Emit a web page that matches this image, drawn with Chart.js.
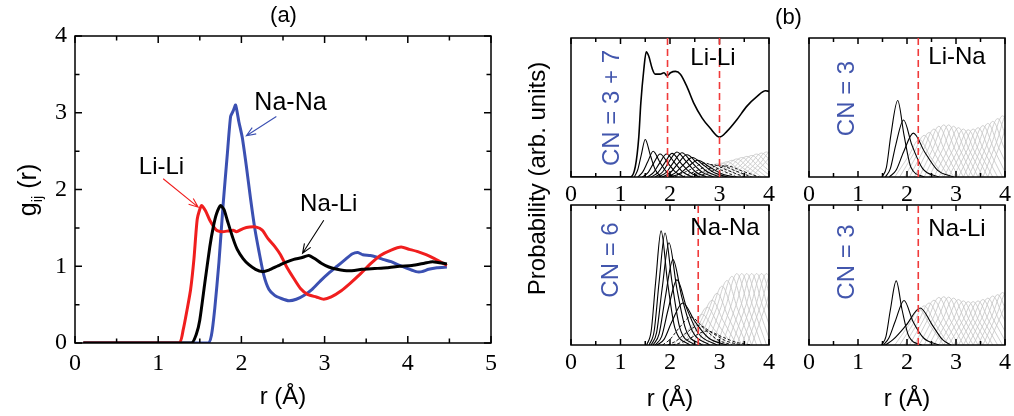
<!DOCTYPE html>
<html><head><meta charset="utf-8">
<script src="https://cdn.jsdelivr.net/npm/chart.js@4.4.0/dist/chart.umd.min.js"></script>
<style>
html,body{margin:0;padding:0;background:#fff;}
#wrap{position:relative;width:1014px;height:416px;overflow:hidden;background:#fff;}
#wrap canvas{position:absolute;left:0;top:0;}
</style></head>
<body><div id="wrap">
<canvas id="cA" width="1014" height="416"></canvas>
<canvas id="cB1" width="1014" height="416"></canvas>
<canvas id="cB2" width="1014" height="416"></canvas>
<canvas id="cB3" width="1014" height="416"></canvas>
<canvas id="cB4" width="1014" height="416"></canvas>
</div>
<script>
// ---------- Panel (a): radial distribution functions g_ij(r) ----------
const aXTicks = [0, 1, 2, 3, 4, 5];
const aYTicks = [0, 1, 2, 3, 4];
const aLiLi = [[0.1,0],[1.25,0],[1.30,0.17],[1.35,0.45],[1.39,0.70],[1.43,1.10],[1.47,1.62],[1.52,1.79],[1.57,1.72],[1.62,1.60],[1.70,1.47],[1.77,1.45],[1.84,1.46],[1.90,1.47],[1.94,1.45],[2.02,1.49],[2.10,1.51],[2.18,1.51],[2.25,1.47],[2.32,1.36],[2.40,1.26],[2.47,1.15],[2.55,0.98],[2.63,0.84],[2.71,0.71],[2.80,0.63],[2.90,0.60],[2.99,0.57],[3.08,0.60],[3.20,0.68],[3.31,0.78],[3.43,0.90],[3.55,1.03],[3.67,1.14],[3.80,1.21],[3.92,1.25],[4.02,1.22],[4.12,1.19],[4.22,1.15],[4.32,1.10],[4.47,1.01]];
const aNaNa = [[0.1,0],[1.60,0],[1.64,0.10],[1.68,0.45],[1.73,1.05],[1.78,1.80],[1.83,2.45],[1.87,2.95],[1.90,3.02],[1.93,3.10],[1.97,2.88],[2.01,2.68],[2.06,2.30],[2.11,1.88],[2.16,1.50],[2.21,1.20],[2.27,0.88],[2.33,0.70],[2.40,0.62],[2.48,0.58],[2.57,0.55],[2.66,0.57],[2.75,0.62],[2.85,0.70],[2.95,0.81],[3.05,0.91],[3.15,1.00],[3.25,1.09],[3.33,1.16],[3.40,1.18],[3.46,1.15],[3.55,1.14],[3.62,1.12],[3.70,1.09],[3.80,1.06],[3.90,1.01],[4.00,0.97],[4.10,0.93],[4.17,0.93],[4.25,0.96],[4.35,0.98],[4.47,0.99]];
const aNaLi = [[0.1,0],[1.40,0],[1.46,0.12],[1.50,0.30],[1.56,0.78],[1.62,1.25],[1.66,1.50],[1.70,1.68],[1.75,1.79],[1.79,1.74],[1.83,1.60],[1.90,1.36],[1.95,1.22],[2.02,1.10],[2.09,1.02],[2.17,0.96],[2.25,0.93],[2.33,0.95],[2.43,1.00],[2.53,1.05],[2.63,1.09],[2.72,1.11],[2.81,1.14],[2.88,1.10],[2.96,1.04],[3.05,0.99],[3.15,0.96],[3.29,0.94],[3.45,0.96],[3.60,0.97],[3.75,0.98],[3.90,1.00],[4.05,1.01],[4.20,1.04],[4.30,1.06],[4.47,1.03]];

// ---------- Panel (b): neighbour distance distributions ----------
const bXTicks = [0, 1, 2, 3, 4];
// Li-Li
const bLiLiTotal = [[0,0],[1.20,0],[1.30,0.076],[1.37,0.29],[1.41,0.53],[1.47,0.77],[1.52,0.90],[1.57,0.87],[1.64,0.78],[1.70,0.74],[1.80,0.74],[1.88,0.75],[1.94,0.728],[2.01,0.75],[2.11,0.76],[2.21,0.74],[2.34,0.652],[2.48,0.532],[2.65,0.424],[2.81,0.352],[3.00,0.287],[3.15,0.328],[3.35,0.412],[3.55,0.508],[3.76,0.58],[3.93,0.62],[4.0,0.616]];
const bLiLiSolid = [
 [[1.28,0],[1.35,.054],[1.42,.16],[1.50,.27],[1.60,.16],[1.70,.054],[1.82,0]],
 [[1.35,0],[1.45,.037],[1.55,.11],[1.66,.185],[1.79,.11],[1.93,.037],[2.08,0]],
 [[1.44,0],[1.56,.033],[1.67,.10],[1.80,.165],[1.96,.10],[2.12,.033],[2.30,0]],
 [[1.54,0],[1.67,.033],[1.79,.10],[1.93,.165],[2.10,.10],[2.27,.033],[2.46,0]],
 [[1.62,0],[1.76,.034],[1.89,.10],[2.04,.17],[2.22,.10],[2.40,.034],[2.60,0]],
 [[1.70,0],[1.85,.036],[1.98,.11],[2.14,.18],[2.33,.11],[2.52,.036],[2.74,0]],
 [[1.77,0],[1.93,.035],[2.07,.105],[2.24,.175],[2.44,.105],[2.65,.035],[2.88,0]],
 [[1.84,0],[2.01,.032],[2.16,.096],[2.34,.16],[2.56,.096],[2.78,.032],[3.02,0]],
 [[1.92,0],[2.10,.028],[2.26,.084],[2.45,.14],[2.68,.084],[2.91,.028],[3.16,0]],
 [[2.00,0],[2.19,.024],[2.36,.072],[2.56,.12],[2.80,.072],[3.04,.024],[3.30,0]]
];
const bLiLiDashed = [
 [[2.10,0],[2.42,.055],[2.70,.10],[3.00,.055],[3.35,0]],
 [[2.25,0],[2.57,.05],[2.85,.09],[3.15,.05],[3.50,0]],
 [[2.40,0],[2.72,.047],[3.00,.085],[3.30,.047],[3.65,0]],
 [[2.55,0],[2.87,.044],[3.15,.08],[3.45,.044],[3.80,0]]
];
const bLiLiGrey = [
 [[2.45,0],[2.73,.052],[2.95,.095],[3.17,.052],[3.45,0]],
 [[2.55,0],[2.83,.055],[3.05,.10],[3.27,.055],[3.55,0]],
 [[2.65,0],[2.93,.06],[3.15,.11],[3.37,.06],[3.65,0]],
 [[2.75,0],[3.03,.066],[3.25,.12],[3.47,.066],[3.75,0]],
 [[2.85,0],[3.13,.072],[3.35,.13],[3.57,.072],[3.85,0]],
 [[2.95,0],[3.23,.077],[3.45,.14],[3.67,.077],[3.95,0]],
 [[3.05,0],[3.33,.081],[3.55,.148],[3.77,.081],[4.05,0]],
 [[3.15,0],[3.43,.085],[3.65,.155],[3.87,.085],[4.15,0]],
 [[3.25,0],[3.53,.091],[3.75,.165],[3.97,.091],[4.25,0]],
 [[3.35,0],[3.63,.095],[3.85,.172],[4.07,.095],[4.35,0]],
 [[3.45,0],[3.73,.099],[3.95,.18],[4.17,.099],[4.45,0]],
 [[3.55,0],[3.83,.103],[4.05,.188],[4.27,.103],[4.55,0]],
 [[3.65,0],[3.93,.107],[4.15,.195],[4.37,.107],[4.65,0]]
];
const bLiLiCut = [1.95, 3.0];
// Li-Na
const bLiNaSolid = [
 [[1.49,0],[1.58,.07],[1.67,.30],[1.81,.55],[1.94,.30],[2.08,.07],[2.35,0]],
 [[1.56,0],[1.66,.06],[1.77,.23],[1.93,.41],[2.10,.23],[2.32,.06],[2.65,0]],
 [[1.64,0],[1.78,.05],[1.93,.18],[2.13,.316],[2.36,.18],[2.62,.05],[2.95,0]]
];
const bLiNaGrey = [
 [[1.75,0],[2.03,.149],[2.25,.27],[2.47,.149],[2.75,0]],
 [[1.85,0],[2.13,.165],[2.35,.30],[2.57,.165],[2.85,0]],
 [[1.95,0],[2.23,.176],[2.45,.32],[2.67,.176],[2.95,0]],
 [[2.05,0],[2.33,.19],[2.55,.345],[2.77,.19],[3.05,0]],
 [[2.15,0],[2.43,.20],[2.65,.365],[2.87,.20],[3.15,0]],
 [[2.25,0],[2.53,.206],[2.75,.375],[2.97,.206],[3.25,0]],
 [[2.35,0],[2.63,.206],[2.85,.375],[3.07,.206],[3.35,0]],
 [[2.45,0],[2.73,.20],[2.95,.365],[3.17,.20],[3.45,0]],
 [[2.55,0],[2.83,.195],[3.05,.355],[3.27,.195],[3.55,0]],
 [[2.65,0],[2.93,.19],[3.15,.345],[3.37,.19],[3.65,0]],
 [[2.75,0],[3.03,.187],[3.25,.34],[3.47,.187],[3.75,0]],
 [[2.85,0],[3.13,.19],[3.35,.345],[3.57,.19],[3.85,0]],
 [[2.95,0],[3.23,.195],[3.45,.355],[3.67,.195],[3.95,0]],
 [[3.05,0],[3.33,.204],[3.55,.37],[3.77,.204],[4.05,0]],
 [[3.15,0],[3.43,.212],[3.65,.385],[3.87,.212],[4.15,0]],
 [[3.25,0],[3.53,.22],[3.75,.40],[3.97,.22],[4.25,0]],
 [[3.35,0],[3.63,.231],[3.85,.42],[4.07,.231],[4.35,0]],
 [[3.45,0],[3.73,.242],[3.95,.44],[4.17,.242],[4.45,0]],
 [[3.55,0],[3.83,.253],[4.05,.46],[4.27,.253],[4.55,0]],
 [[3.65,0],[3.93,.264],[4.15,.48],[4.37,.264],[4.65,0]]
];
const bLiNaCut = [2.23];
// Na-Na
const bNaNaSolid = [
 [[1.53,0],[1.62,.10],[1.71,.45],[1.82,.815],[1.95,.45],[2.10,.12],[2.40,0]],
 [[1.58,0],[1.68,.10],[1.78,.45],[1.90,.80],[2.04,.45],[2.20,.12],[2.50,0]],
 [[1.62,0],[1.73,.09],[1.84,.40],[1.98,.73],[2.14,.40],[2.32,.11],[2.65,0]],
 [[1.66,0],[1.78,.08],[1.90,.33],[2.06,.61],[2.24,.34],[2.45,.10],[2.80,0]],
 [[1.70,0],[1.83,.06],[1.96,.25],[2.14,.465],[2.34,.26],[2.58,.08],[2.95,0]],
 [[1.74,0],[1.88,.04],[2.03,.16],[2.26,.30],[2.50,.17],[2.78,.05],[3.15,0]]
];
const bNaNaDashed = [
 [[1.85,0],[2.00,.04],[2.18,.12],[2.42,.20],[2.68,.12],[2.95,.04],[3.25,0]],
 [[1.95,0],[2.12,.028],[2.32,.084],[2.58,.14],[2.86,.084],[3.14,.028],[3.45,0]],
 [[2.05,0],[2.25,.02],[2.47,.06],[2.75,.10],[3.04,.06],[3.33,.02],[3.65,0]]
];
const bNaNaGrey = [
 [[2.05,0],[2.33,.094],[2.55,.17],[2.77,.094],[3.05,0]],
 [[2.15,0],[2.43,.121],[2.65,.22],[2.87,.121],[3.15,0]],
 [[2.25,0],[2.53,.149],[2.75,.27],[2.97,.149],[3.25,0]],
 [[2.35,0],[2.63,.176],[2.85,.32],[3.07,.176],[3.35,0]],
 [[2.45,0],[2.73,.204],[2.95,.37],[3.17,.204],[3.45,0]],
 [[2.55,0],[2.83,.231],[3.05,.42],[3.27,.231],[3.55,0]],
 [[2.65,0],[2.93,.253],[3.15,.46],[3.37,.253],[3.65,0]],
 [[2.75,0],[3.03,.27],[3.25,.49],[3.47,.27],[3.75,0]],
 [[2.85,0],[3.13,.28],[3.35,.51],[3.57,.28],[3.85,0]],
 [[2.95,0],[3.23,.28],[3.45,.51],[3.67,.28],[3.95,0]],
 [[3.05,0],[3.33,.28],[3.55,.51],[3.77,.28],[4.05,0]],
 [[3.15,0],[3.43,.28],[3.65,.51],[3.87,.28],[4.15,0]],
 [[3.25,0],[3.53,.28],[3.75,.51],[3.97,.28],[4.25,0]],
 [[3.35,0],[3.63,.28],[3.85,.51],[4.07,.28],[4.35,0]],
 [[3.45,0],[3.73,.28],[3.95,.51],[4.17,.28],[4.45,0]],
 [[3.55,0],[3.83,.28],[4.05,.51],[4.27,.28],[4.55,0]],
 [[3.65,0],[3.93,.28],[4.15,.51],[4.37,.28],[4.65,0]]
];
const bNaNaCut = [2.57];
// Na-Li
const bNaLiSolid = [
 [[1.48,0],[1.57,.06],[1.66,.25],[1.78,.458],[1.90,.25],[2.04,.06],[2.30,0]],
 [[1.52,0],[1.63,.05],[1.76,.17],[1.94,.318],[2.12,.17],[2.34,.05],[2.65,0]],
 [[1.56,0],[1.72,.04],[1.98,.14],[2.27,.264],[2.52,.14],[2.72,.04],[2.90,0]]
];
const bNaLiGrey = [
 [[1.75,0],[2.03,.14],[2.25,.255],[2.47,.14],[2.75,0]],
 [[1.85,0],[2.13,.154],[2.35,.28],[2.57,.154],[2.85,0]],
 [[1.95,0],[2.23,.165],[2.45,.30],[2.67,.165],[2.95,0]],
 [[2.05,0],[2.33,.176],[2.55,.32],[2.77,.176],[3.05,0]],
 [[2.15,0],[2.43,.187],[2.65,.34],[2.87,.187],[3.15,0]],
 [[2.25,0],[2.53,.19],[2.75,.345],[2.97,.19],[3.25,0]],
 [[2.35,0],[2.63,.188],[2.85,.342],[3.07,.188],[3.35,0]],
 [[2.45,0],[2.73,.184],[2.95,.335],[3.17,.184],[3.45,0]],
 [[2.55,0],[2.83,.179],[3.05,.325],[3.27,.179],[3.55,0]],
 [[2.65,0],[2.93,.173],[3.15,.315],[3.37,.173],[3.65,0]],
 [[2.75,0],[3.03,.17],[3.25,.31],[3.47,.17],[3.75,0]],
 [[2.85,0],[3.13,.17],[3.35,.31],[3.57,.17],[3.85,0]],
 [[2.95,0],[3.23,.173],[3.45,.315],[3.67,.173],[3.95,0]],
 [[3.05,0],[3.33,.179],[3.55,.325],[3.77,.179],[4.05,0]],
 [[3.15,0],[3.43,.184],[3.65,.335],[3.87,.184],[4.15,0]],
 [[3.25,0],[3.53,.193],[3.75,.35],[3.97,.193],[4.25,0]],
 [[3.35,0],[3.63,.198],[3.85,.36],[4.07,.198],[4.35,0]],
 [[3.45,0],[3.73,.206],[3.95,.375],[4.17,.206],[4.45,0]],
 [[3.55,0],[3.83,.215],[4.05,.39],[4.27,.215],[4.55,0]],
 [[3.65,0],[3.93,.22],[4.15,.40],[4.37,.22],[4.65,0]]
];
const bNaLiCut = [2.23];

// ---------- helpers ----------
const SANS = '"Liberation Sans", Arial, Helvetica, sans-serif';
const SERIF = '"Liberation Serif", "Times New Roman", Times, serif';
const RED = '#f01e1e', BLUE = '#3b50b2', CNBLUE = '#4256ad';
const W = 1014, H = 416;
const pts = arr => arr.map(p => ({x: p[0], y: p[1]}));
function lineDS(arr, color, width, dash, mono) {
  return {data: pts(arr), borderColor: color, borderWidth: width, borderDash: dash || [],
    pointRadius: 0, pointHoverRadius: 0, fill: false, tension: mono ? 0 : 0.2,
    cubicInterpolationMode: mono ? 'monotone' : 'default'};
}
function framePlugin(o) {
  return {id: 'frame', afterDatasetsDraw(chart) {
    const {ctx, chartArea: a, scales: {x, y}} = chart;
    ctx.save();
    ctx.strokeStyle = '#000'; ctx.lineWidth = o.lw;
    ctx.beginPath();
    const xv = x.ticks.map(t => t.value);
    const seg = (x1, y1, x2, y2) => { ctx.moveTo(x1, y1); ctx.lineTo(x2, y2); };
    xv.forEach((v, i) => {
      const p = x.getPixelForValue(v);
      seg(p, a.bottom, p, a.bottom - o.major); seg(p, a.top, p, a.top + o.major);
      if (i < xv.length - 1) {
        const q = x.getPixelForValue((v + xv[i + 1]) / 2);
        seg(q, a.bottom, q, a.bottom - o.minor); seg(q, a.top, q, a.top + o.minor);
      }
    });
    if (o.yTicks) {
      const yv = y.ticks.map(t => t.value);
      yv.forEach((v, i) => {
        const p = y.getPixelForValue(v);
        seg(a.left, p, a.left + o.major, p); seg(a.right, p, a.right - o.major, p);
        if (i < yv.length - 1) {
          const q = y.getPixelForValue((v + yv[i + 1]) / 2);
          seg(a.left, q, a.left + o.minor, q); seg(a.right, q, a.right - o.minor, q);
        }
      });
    }
    ctx.stroke();
    ctx.strokeRect(a.left, a.top, a.right - a.left, a.bottom - a.top);
    ctx.restore();
  }};
}
function drawText(ctx, s, x, y, size, color, rot, family, baseline) {
  ctx.save();
  ctx.translate(x, y); if (rot) ctx.rotate(rot);
  ctx.font = size + 'px ' + (family || SANS);
  ctx.fillStyle = color; ctx.textAlign = 'center'; ctx.textBaseline = baseline || 'middle';
  ctx.fillText(s, 0, 0);
  ctx.restore();
}
function arrow(ctx, x1, y1, x2, y2, color) {
  ctx.save(); ctx.strokeStyle = color; ctx.lineWidth = 1.1;
  ctx.beginPath(); ctx.moveTo(x1, y1); ctx.lineTo(x2, y2);
  const ang = Math.atan2(y2 - y1, x2 - x1), L = 10, s = 0.38;
  ctx.moveTo(x2 - L * Math.cos(ang - s), y2 - L * Math.sin(ang - s)); ctx.lineTo(x2, y2);
  ctx.lineTo(x2 - L * Math.cos(ang + s), y2 - L * Math.sin(ang + s));
  ctx.stroke(); ctx.restore();
}
Chart.defaults.animation = false;
Chart.defaults.responsive = false;
Chart.defaults.devicePixelRatio = 1;
const TICKFONT = {family: SERIF, size: 24};

// ---------- Panel (a) chart ----------
const A = {left: 75, top: 36, right: 491, bottom: 343};
const annA = {id: 'annA', afterDraw(chart) {
  const {ctx, scales: {x, y}} = chart;
  const P = (vx, vy) => [x.getPixelForValue(vx), y.getPixelForValue(vy)];
  let p = P(2.59, 3.13); drawText(ctx, 'Na-Na', p[0], p[1], 25, '#000');
  p = P(1.04, 2.29); drawText(ctx, 'Li-Li', p[0], p[1], 24, '#000');
  p = P(3.05, 1.80); drawText(ctx, 'Na-Li', p[0], p[1], 24, '#000');
  let a = P(2.42, 2.95), b = P(2.06, 2.70); arrow(ctx, a[0], a[1], b[0], b[1], BLUE);
  a = P(1.06, 2.14); b = P(1.48, 1.77); arrow(ctx, a[0], a[1], b[0], b[1], RED);
  a = P(2.99, 1.60); b = P(2.735, 1.17); arrow(ctx, a[0], a[1], b[0], b[1], '#000');
  drawText(ctx, '(a)', 283.5, 16, 22, '#000');
  // y-axis title g_ij (r)
  ctx.save(); ctx.translate(36, 190); ctx.rotate(-Math.PI / 2);
  ctx.fillStyle = '#000'; ctx.textAlign = 'left'; ctx.textBaseline = 'alphabetic';
  ctx.font = '25px ' + SANS; const wg = ctx.measureText('g').width, wr = ctx.measureText(' (r)').width;
  ctx.font = '15px ' + SANS; const wij = ctx.measureText('ij').width;
  let sx = -(wg + wij + wr) / 2;
  ctx.font = '25px ' + SANS; ctx.fillText('g', sx, 0); sx += wg;
  ctx.font = '15px ' + SANS; ctx.fillText('ij', sx, 6); sx += wij;
  ctx.font = '25px ' + SANS; ctx.fillText(' (r)', sx, 0);
  ctx.restore();
}};
new Chart(document.getElementById('cA'), {
  type: 'line',
  data: {datasets: [lineDS(aNaLi, '#000', 3), lineDS(aLiLi, RED, 3), lineDS(aNaNa, BLUE, 3)]},
  options: {
    layout: {padding: {left: 0, top: A.top, right: W - A.right, bottom: 0}},
    plugins: {legend: {display: false}, tooltip: {enabled: false}},
    scales: {
      x: {type: 'linear', min: aXTicks[0], max: aXTicks[aXTicks.length - 1],
        afterBuildTicks: s => { s.ticks = aXTicks.map(v => ({value: v})); },
        afterFit: s => { s.height = H - A.bottom; },
        grid: {display: false, drawTicks: false}, border: {display: false},
        ticks: {font: TICKFONT, color: '#000', padding: 6, maxRotation: 0, autoSkip: false},
        title: {display: true, text: 'r (Å)', font: {family: SANS, size: 24}, color: '#000', padding: {top: 0, bottom: 4}}},
      y: {type: 'linear', min: aYTicks[0], max: aYTicks[aYTicks.length - 1],
        afterBuildTicks: s => { s.ticks = aYTicks.map(v => ({value: v})); },
        afterFit: s => { s.width = A.left; },
        grid: {display: false, drawTicks: false}, border: {display: false},
        ticks: {font: TICKFONT, color: '#000', padding: 8, autoSkip: false}}
    }
  },
  plugins: [framePlugin({lw: 1.5, major: 7, minor: 4.5, yTicks: true}), annA]
});

// ---------- Panel (b) charts ----------
function makeSub(id, area, solid, dashed, grey, total, cuts, labels, withTitle, extra) {
  const ds = [];
  if (total) ds.push(lineDS(total, '#000', 1.6, null, true));
  solid.forEach(c => ds.push(lineDS(c, '#000', 1.1, null, true)));
  (dashed || []).forEach(c => ds.push(lineDS(c, '#000', 0.9, [3, 2], true)));
  grey.forEach(c => ds.push(lineDS(c, '#c6c6c6', 0.85, null, true)));
  const ann = {id: 'ann', afterDatasetsDraw(chart) {
    const {ctx, chartArea: a, scales: {x}} = chart;
    ctx.save(); ctx.strokeStyle = '#f03a3a'; ctx.lineWidth = 1.6; ctx.setLineDash([7, 4]);
    cuts.forEach(v => { const p = x.getPixelForValue(v); ctx.beginPath(); ctx.moveTo(p, a.bottom); ctx.lineTo(p, a.top); ctx.stroke(); });
    ctx.restore();
  }, afterDraw(chart) {
    const {ctx} = chart;
    labels.forEach(l => drawText(ctx, l.t, l.x, l.y, 24, l.c || '#000', l.r || 0));
    if (extra) extra(ctx);
  }};
  new Chart(document.getElementById(id), {
    type: 'line',
    data: {datasets: ds},
    options: {
      layout: {padding: {left: area.left, top: area.top, right: W - area.right, bottom: 0}},
      plugins: {legend: {display: false}, tooltip: {enabled: false}},
      scales: {
        x: {type: 'linear', min: bXTicks[0], max: bXTicks[bXTicks.length - 1],
          afterBuildTicks: s => { s.ticks = bXTicks.map(v => ({value: v})); },
          afterFit: s => { s.height = H - area.bottom; },
          grid: {display: false, drawTicks: false}, border: {display: false},
          ticks: {font: TICKFONT, color: '#000', padding: 3, maxRotation: 0, autoSkip: false},
          title: {display: withTitle, text: 'r (Å)', font: {family: SANS, size: 24}, color: '#000', padding: {top: 0, bottom: 2}}},
        y: {type: 'linear', min: 0, max: 1, display: false}
      }
    },
    plugins: [framePlugin({lw: 1.5, major: 6, minor: 4, yTicks: false}), ann]
  });
}
const rot = -Math.PI / 2;
makeSub('cB1', {left: 571, top: 38, right: 769, bottom: 177}, bLiLiSolid, bLiLiDashed, bLiLiGrey, bLiLiTotal, bLiLiCut,
  [{t: 'Li-Li', x: 713, y: 58}, {t: 'CN = 3 + 7', x: 612, y: 108, c: CNBLUE, r: rot}], false,
  ctx => {
    drawText(ctx, '(b)', 788.5, 17.5, 22, '#000');
    ctx.save(); ctx.translate(545, 178.5); ctx.rotate(rot);
    ctx.font = '24px ' + SANS; ctx.fillStyle = '#000'; ctx.textAlign = 'center'; ctx.textBaseline = 'alphabetic';
    ctx.fillText('Probability (arb. units)', 0, 0); ctx.restore();
  });
makeSub('cB2', {left: 809, top: 38, right: 1008, bottom: 177}, bLiNaSolid, null, bLiNaGrey, null, bLiNaCut,
  [{t: 'Li-Na', x: 957, y: 57}, {t: 'CN = 3', x: 847.5, y: 98.5, c: CNBLUE, r: rot}], false);
makeSub('cB3', {left: 571, top: 205, right: 769, bottom: 345}, bNaNaSolid, bNaNaDashed, bNaNaGrey, null, bNaNaCut,
  [{t: 'Na-Na', x: 725, y: 228}, {t: 'CN = 6', x: 611, y: 260, c: CNBLUE, r: rot}], true);
makeSub('cB4', {left: 809, top: 205, right: 1008, bottom: 345}, bNaLiSolid, null, bNaLiGrey, null, bNaLiCut,
  [{t: 'Na-Li', x: 957, y: 229}, {t: 'CN = 3', x: 847.5, y: 262, c: CNBLUE, r: rot}], true);
</script>
</body></html>
